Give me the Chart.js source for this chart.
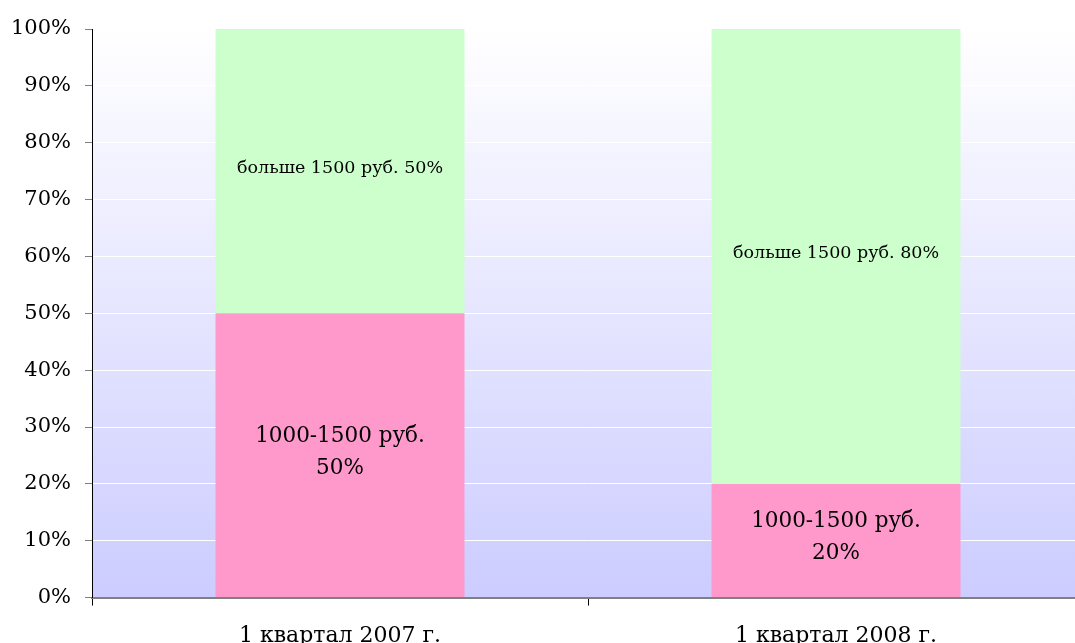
<!DOCTYPE html>
<html><head><meta charset="utf-8">
<script src="https://cdn.jsdelivr.net/npm/chart.js@4/dist/chart.umd.min.js"></script>
<style>
html,body{margin:0;padding:0;background:#fff;overflow:hidden;}
#wrap{width:1084px;height:666px;position:relative;}
</style></head>
<body><div id="wrap"><canvas id="c"></canvas></div>
<script>
const categories = ['1 квартал 2007 г.', '1 квартал 2008 г.'];
const seriesNames = ['1000-1500 руб.', 'больше 1500 руб.'];
const lowValues = [50, 20];
const highValues = [50, 80];
const yTicks = [0,10,20,30,40,50,60,70,80,90,100];

const FONT = "'DejaVu Serif', serif";

const bgPlugin = {
  id: 'bg',
  beforeDraw(chart) {
    const {ctx, chartArea: a} = chart;
    const g = ctx.createLinearGradient(0, a.top, 0, a.bottom);
    g.addColorStop(0, '#ffffff');
    g.addColorStop(1, '#ccccff');
    ctx.save();
    ctx.fillStyle = g;
    ctx.fillRect(a.left, a.top, a.right - a.left, a.bottom - a.top);
    ctx.restore();
  }
};

const labelPlugin = {
  id: 'lbl',
  afterDatasetsDraw(chart) {
    const ctx = chart.ctx;
    ctx.save();
    ctx.fillStyle = '#000';
    ctx.textAlign = 'center';
    ctx.textBaseline = 'middle';
    chart.data.datasets.forEach((ds, di) => {
      const meta = chart.getDatasetMeta(di);
      meta.data.forEach((bar, i) => {
        const v = ds.data[i];
        const cy = (bar.y + bar.base) / 2 - 3;
        if (di === 0) {
          ctx.font = "21.5px " + FONT;
          ctx.fillText(ds.label, bar.x, cy - 16);
          ctx.fillText(v + '%', bar.x, cy + 16);
        } else {
          ctx.font = "17.5px " + FONT;
          ctx.fillText(ds.label + ' ' + v + '%', bar.x, cy);
        }
      });
    });
    ctx.restore();
  }
};

new Chart(document.getElementById('c'), {
  type: 'bar',
  data: {
    labels: categories,
    datasets: [
      {label: seriesNames[0], data: lowValues, backgroundColor: '#ff99cc', borderWidth: 0},
      {label: seriesNames[1], data: highValues, backgroundColor: '#ccffcc', borderWidth: 0}
    ]
  },
  options: {
    responsive: true,
    maintainAspectRatio: false,
    animation: false,
    layout: {padding: {top: 29, right: 0, left: 0, bottom: 0}},
    plugins: {legend: {display: false}, tooltip: {enabled: false}},
    datasets: {bar: {barPercentage: 0.502, categoryPercentage: 1}},
    scales: {
      x: {
        stacked: true,
        grid: {display: true, drawOnChartArea: false, offset: true, tickLength: 8, tickColor: '#000', tickWidth: 1},
        border: {display: true, color: '#808080', width: 2},
        ticks: {color: '#000', font: {family: FONT, size: 22}, padding: 17, maxRotation: 0}
      },
      y: {
        stacked: true,
        min: 0, max: 100,
        afterFit(s) { s.width = 92; },
        afterBuildTicks(s) { s.ticks = yTicks.map(v => ({value: v})); },
        grid: {color: '#ffffff', lineWidth: 1, tickLength: 7, tickColor: '#808080', tickWidth: 1},
        border: {display: true, color: '#000', width: 1},
        ticks: {color: '#000', font: {family: FONT, size: 21}, padding: 14, callback: v => v + '%'}
      }
    }
  },
  plugins: [bgPlugin, labelPlugin]
});
</script></body></html>
